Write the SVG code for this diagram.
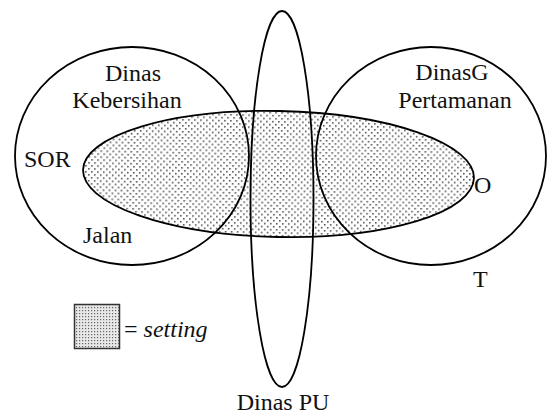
<svg xmlns="http://www.w3.org/2000/svg" width="547" height="414" viewBox="0 0 547 414">
<defs>
<pattern id="dots" width="6" height="6" patternUnits="userSpaceOnUse">
<rect x="1" y="1" width="1.6" height="1.6" fill="#555"/>
<rect x="4" y="4" width="1.6" height="1.6" fill="#555"/>
</pattern>
<pattern id="dense" width="3" height="3" patternUnits="userSpaceOnUse">
<rect width="3" height="3" fill="#e8e8e8"/>
<rect x="1" y="1" width="1.2" height="1.2" fill="#666"/>
</pattern>
</defs>
<style>
.ln{fill:none;stroke:#000;stroke-width:1.8}
</style>
<rect width="547" height="414" fill="#fff"/>
<g id="setting-area">
<ellipse cx="278.5" cy="174" rx="195.5" ry="63" fill="url(#dots)" transform="rotate(1.2 278.5 174)"/>
</g>
<g id="connectors">
<ellipse class="ln" cx="278.5" cy="174" rx="195.5" ry="63" transform="rotate(1.2 278.5 174)"/>
</g>
<g font-family="Liberation Serif" font-size="24" fill="#111">
<g id="dinas-kebersihan">
<ellipse class="ln" cx="132" cy="156" rx="117" ry="109"/>
<text x="133" y="81" text-anchor="middle">Dinas</text>
<text x="127" y="108" text-anchor="middle">Kebersihan</text>
</g>
<g id="dinas-pertamanan">
<ellipse class="ln" cx="431" cy="156" rx="115" ry="109"/>
<text x="452" y="80" text-anchor="middle">DinasG</text>
<text x="455" y="108" text-anchor="middle">Pertamanan</text>
</g>
<g id="dinas-pu">
<ellipse class="ln" cx="282" cy="199" rx="31.5" ry="188"/>
<text x="283" y="410" text-anchor="middle">Dinas PU</text>
</g>
<g id="labels">
<text x="24" y="167">SOR</text>
<text x="83" y="243">Jalan</text>
<text x="474" y="193">O</text>
<text x="473" y="287">T</text>
</g>
<g id="legend">
<rect x="74.5" y="304.5" width="45" height="44" fill="url(#dense)" stroke="#333" stroke-width="1.5"/>
<text x="124" y="337">= <tspan font-style="italic">setting</tspan></text>
</g>
</g>
</svg>
